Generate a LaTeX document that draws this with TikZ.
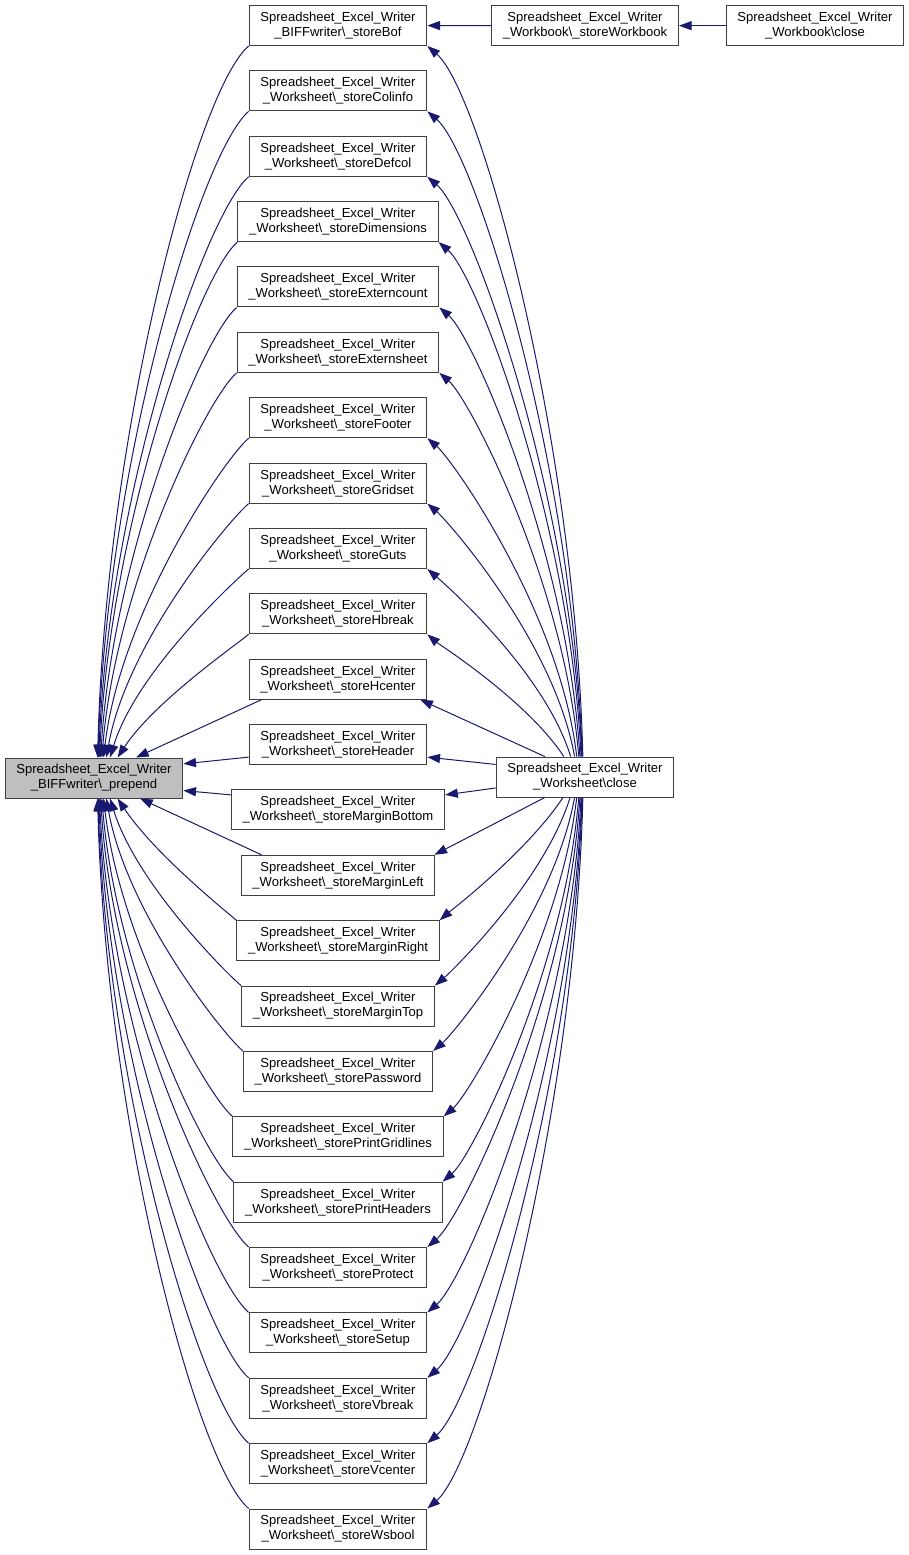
\documentclass[tikz,border=0pt]{standalone}
\usepackage{fontspec}
\setmainfont{Liberation Sans}
\usetikzlibrary{arrows.meta}
\definecolor{edgeblue}{HTML}{191970}
\begin{document}
\begin{tikzpicture}[x=0.75pt,y=-0.75pt,fn/.style={draw=black!75,fill=white,rectangle,align=center,
					minimum height=30pt,inner xsep=8.45pt,inner ysep=0pt,line width=0.75pt,
					font=\fontsize{9.8}{11.25}\selectfont},fc/.style={fn,fill=black!25},
					ce/.style={draw=edgeblue,line width=0.75pt,-{Triangle[length=9.5pt,width=6.8pt]}}]
		\useasboundingbox (0,0) rectangle (909,1555);
		\node[fc] (prepend) at (94,778) {Spreadsheet\_Excel\_Writer\\\_BIFFwriter\textbackslash\_prepend};
		\node[fn] (wsclose) at (585,777) {Spreadsheet\_Excel\_Writer\\\_Worksheet\textbackslash close};
		\node[fn] (wbstore) at (585,25.7) {Spreadsheet\_Excel\_Writer\\\_Workbook\textbackslash\_storeWorkbook};
		\node[fn] (wbclose) at (815,25.7) {Spreadsheet\_Excel\_Writer\\\_Workbook\textbackslash close};
		\foreach \f/\cls [count=\i] in {storeBof/BIFFwriter,storeColinfo/Worksheet,storeDefcol/Worksheet,
				storeDimensions/Worksheet,storeExterncount/Worksheet,storeExternsheet/Worksheet,
				storeFooter/Worksheet,storeGridset/Worksheet,storeGuts/Worksheet,storeHbreak/Worksheet,
				storeHcenter/Worksheet,storeHeader/Worksheet,storeMarginBottom/Worksheet,
				storeMarginLeft/Worksheet,storeMarginRight/Worksheet,storeMarginTop/Worksheet,
				storePassword/Worksheet,storePrintGridlines/Worksheet,storePrintHeaders/Worksheet,
				storeProtect/Worksheet,storeSetup/Worksheet,storeVbreak/Worksheet,
				storeVcenter/Worksheet,storeWsbool/Worksheet}
			\node[fn] (m\i) at (338,{25.5+65.37*(\i-1)}) {Spreadsheet\_Excel\_Writer\\\_\cls\textbackslash\_\f};
		% callers above prepend
		\foreach \i in {1,...,10}{
				\pgfmathsetmacro\dy{778-(25.5+65.37*(\i-1))}
				\pgfmathtruncatemacro\ta{atan2(20,4000/\dy-2)}
				\pgfmathtruncatemacro\tb{atan2(20,3-4000/\dy)}
				\pgfmathsetmacro\hh{\dy-40}
				\pgfmathsetmacro\sx{6000/\dy}
				\draw[ce] (m\i.south west) .. controls +(-0.07*\dy,0.06*\dy) and +(\sx,-0.45*\hh) .. (prepend.\ta);
				\draw[ce] (wsclose.\tb) .. controls +(-\sx,-0.45*\hh) and +(0.07*\dy,0.06*\dy) .. (m\i.south east);
			}
		% callers below prepend
		\foreach \i in {15,...,24}{
				\pgfmathsetmacro\dy{25.5+65.37*(\i-1)-778}
				\pgfmathtruncatemacro\ta{atan2(20,4000/\dy-2)}
				\pgfmathtruncatemacro\tb{atan2(20,3-4000/\dy)}
				\pgfmathsetmacro\hh{\dy-40}
				\pgfmathsetmacro\sx{6000/\dy}
				\draw[ce] (m\i.north west) .. controls +(-0.07*\dy,-0.06*\dy) and +(\sx,0.45*\hh) .. (prepend.-\ta);
				\draw[ce] (wsclose.-\tb) .. controls +(-\sx,0.45*\hh) and +(0.07*\dy,-0.06*\dy) .. (m\i.north east);
			}
		% the near ones, straight
		\draw[ce] (m11.195) -- (prepend.26);
		\draw[ce] (wsclose.153) -- (m11.-14);
		\draw[ce] (m12.188) -- (prepend.9);
		\draw[ce] (wsclose.172) -- (m12.-8);
		\draw[ce] (m13.172) -- (prepend.-8);
		\draw[ce] (wsclose.187) -- (m13.8);
		\draw[ce] (m14.165) -- (prepend.-24);
		\draw[ce] (wsclose.-153) -- (m14.12);
		\draw[ce] (wbstore) -- (m1);
		\draw[ce] (wbclose) -- (wbstore);
	\end{tikzpicture}
\end{document}
